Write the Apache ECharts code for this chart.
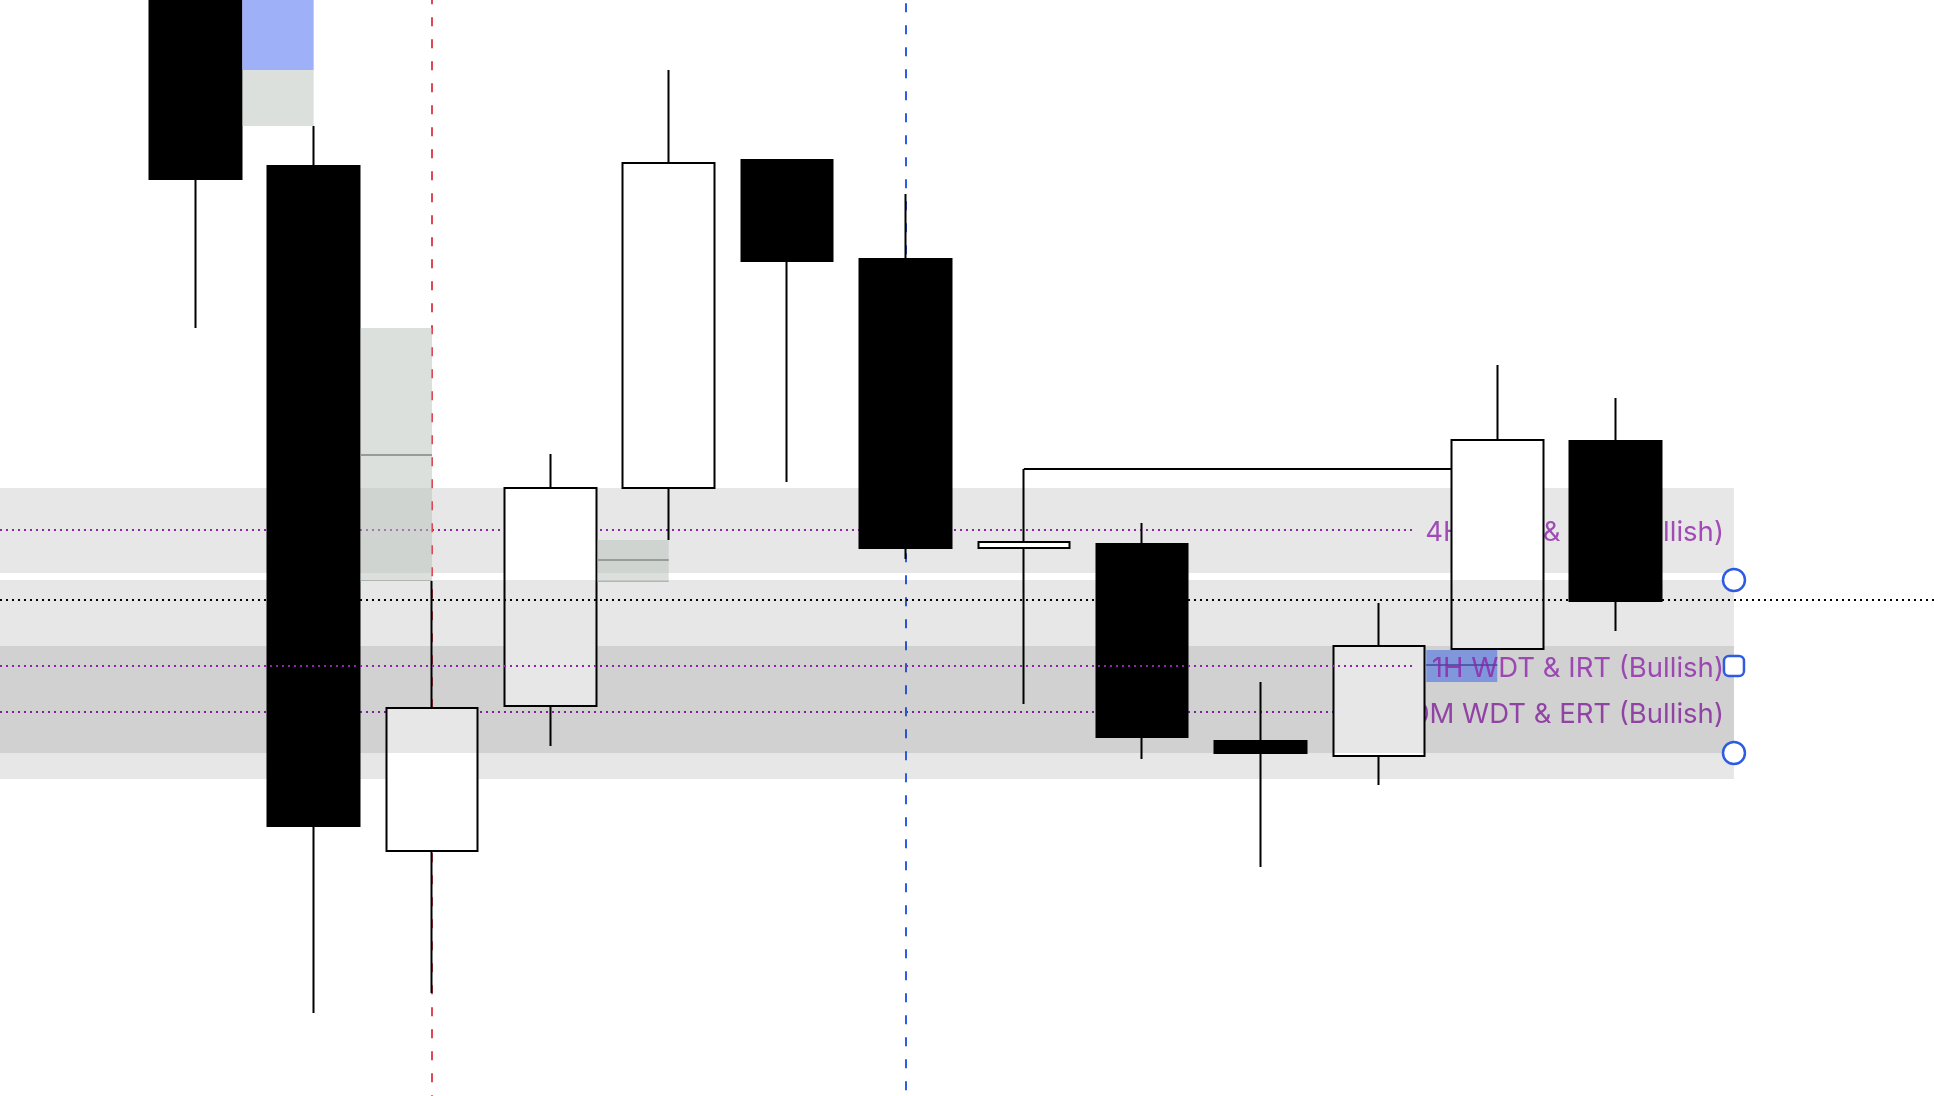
<!DOCTYPE html>
<html><head><meta charset="utf-8">
<script src="https://cdn.jsdelivr.net/npm/echarts/dist/echarts.min.js"></script>
<style>html,body{margin:0;padding:0;background:#fff;overflow:hidden}#chart{width:1934px;height:1096px}</style>
</head><body><div id="chart"></div>
<script>
// ---- Candles: bar index + OHLC (price units) ----
const barIndex = [0, 1, 2, 3, 4, 5, 6, 7, 8, 9, 10, 11, 12];
const opens  = [2402.00, 2391.70, 2357.45, 2364.70, 2375.60, 2392.00, 2387.05, 2372.60, 2372.80, 2362.95, 2362.20, 2367.55, 2377.95];
const closes = [2391.05, 2358.70, 2364.60, 2375.60, 2391.85, 2386.95, 2372.60, 2372.90, 2363.15, 2362.35, 2367.70, 2378.00, 2369.95];
const lows   = [2383.60, 2349.35, 2350.35, 2362.70, 2373.00, 2375.90, 2372.05, 2364.80, 2362.05, 2356.65, 2360.75, 2367.55, 2368.45];
const highs  = [2405.00, 2393.70, 2370.95, 2377.30, 2396.50, 2392.00, 2390.30, 2376.55, 2373.85, 2365.90, 2369.85, 2381.75, 2380.10];

// ---- Zones (rectangles with dotted mid line and label) ----
const zoneLabels  = ['4H WDT & IRT (Bullish)', '1H WDT & IRT (Bullish)', '30M WDT & ERT (Bullish)'];
const zoneTops    = [2375.60, 2371.00, 2367.70];
const zoneBottoms = [2371.35, 2362.35, 2361.05];
const zoneMids    = [2373.50, 2366.70, 2364.40];
const zoneStartX = -1.65, zoneEndX = 13.0, zoneLineEndX = 10.29, zoneLabelX = 12.915;

// ---- Gap boxes ----
const boxLeft   = [0.397, 1.397, 3.397];
const boxRight  = [1.0, 2.0, 4.0];
const boxTop    = [2396.50, 2383.60, 2373.00];
const boxBottom = [2393.70, 2371.00, 2370.95];
const boxMid    = [null, 2377.25, 2372.00];
const blueBoxTop = 2401.0, blueBoxBottom = 2396.50;

// ---- Other drawings ----
const redLineX = 2, blueLineX = 6;
const crosshairY = 2370.00;
const rayStartX = 7, rayEndX = 11.3, rayY = 2376.55;
const hlLeft = 10.40, hlRight = 11.0, hlTop = 2367.50, hlBottom = 2365.90, hlLineY = 2366.75;
const xMin = -1.65, xMax = 14.69, yMin = 2345.2, yMax = 2400.0;

const purple = '#8e24aa';
const zoneFill = 'rgba(0,0,0,0.095)';
const boxFill = 'rgba(188,195,190,0.52)';

const candleData = barIndex.map((x, i) => [x, opens[i], closes[i], lows[i], highs[i]]);

function hLine(x1, x2, y, style) {
  return [{ coord: [x1, y], lineStyle: style }, { coord: [x2, y] }];
}
function vLine(x, y1, y2, style) {
  return [{ coord: [x, y1], lineStyle: style }, { coord: [x, y2] }];
}
function rect(x1, x2, y1, y2, color) {
  return [{ coord: [x1, y1], itemStyle: { color: color } }, { coord: [x2, y2] }];
}
const dotted = { color: purple, width: 2, type: [2, 4] };
const labelStyle = {
  show: true, position: 'left', distance: 0, offset: [0, 3], color: purple,
  fontSize: 27.5, fontFamily: 'Inter, "Noto Sans", sans-serif',
  formatter: p => p.data[2]
};

const option = {
  animation: false,
  backgroundColor: '#ffffff',
  grid: { left: 0, right: 0, top: 0, bottom: 0 },
  xAxis: { type: 'value', min: xMin, max: xMax, show: false, splitLine: { show: false } },
  yAxis: { type: 'value', min: yMin, max: yMax, show: false, scale: true, splitLine: { show: false } },
  series: [
    {
      name: 'drawingsBelow', type: 'line', data: [], silent: true,
      markArea: {
        z: 1, silent: true, label: { show: false },
        data: [
          rect(zoneStartX, zoneEndX, zoneTops[0], zoneBottoms[0], zoneFill),
          rect(zoneStartX, zoneEndX, zoneTops[2], zoneBottoms[2], zoneFill)
        ]
      },
      markLine: {
        z: 2, silent: true, symbol: ['none', 'none'], label: { show: false },
        data: [
          hLine(zoneStartX, zoneLineEndX, zoneMids[0], dotted),
          hLine(zoneStartX, zoneLineEndX, zoneMids[2], dotted),
          vLine(redLineX, yMax, yMin, { color: '#e24556', width: 2, type: [9, 13], dashOffset: 4.7 }),
          vLine(blueLineX, yMax, yMin, { color: '#2f5ce6', width: 2, type: [9, 13], dashOffset: -3.3 }),
          hLine(rayStartX, rayEndX, rayY, { color: '#000000', width: 2, type: 'solid' })
        ]
      }
    },
    {
      name: 'labelsBelow', type: 'scatter', z: 2, silent: true, symbolSize: 0,
      data: [[zoneLabelX, zoneMids[0], zoneLabels[0]], [zoneLabelX, zoneMids[2], zoneLabels[2]]],
      label: labelStyle
    },
    {
      name: 'price', type: 'candlestick', z: 3, barWidth: 92, silent: true,
      data: candleData,
      itemStyle: { color: '#ffffff', color0: '#000000', borderColor: '#000000', borderColor0: '#000000', borderWidth: 2 }
    },
    {
      name: 'gapBoxes', type: 'line', data: [], silent: true,
      markArea: {
        z: 4, silent: true, label: { show: false },
        data: [
          rect(boxLeft[0], boxRight[0], blueBoxTop, blueBoxBottom, '#9db0f8'),
          rect(boxLeft[0], boxRight[0], boxTop[0], boxBottom[0], boxFill),
          rect(boxLeft[1], boxRight[1], boxTop[1], boxBottom[1], boxFill),
          rect(boxLeft[2], boxRight[2], boxTop[2], boxBottom[2], boxFill)
        ]
      },
      markLine: {
        z: 4, silent: true, symbol: ['none', 'none'], label: { show: false },
        data: [
          hLine(boxLeft[1], boxRight[1], boxMid[1], { color: '#989c99', width: 2, type: 'solid' }),
          hLine(boxLeft[2], boxRight[2], boxMid[2], { color: '#989c99', width: 2, type: 'solid' }),
          hLine(boxLeft[1], boxRight[1], boxBottom[1], { color: '#c4c8c5', width: 1, type: 'solid' }),
          hLine(boxLeft[2], boxRight[2], boxBottom[2], { color: '#c4c8c5', width: 1, type: 'solid' })
        ]
      }
    },
    {
      name: 'selectedZone', type: 'line', data: [], silent: true,
      markArea: {
        z: 5, silent: true, label: { show: false },
        data: [
          rect(zoneStartX, zoneEndX, zoneTops[1], zoneBottoms[1], zoneFill),
          rect(hlLeft, hlRight, hlTop, hlBottom, '#8197dc')
        ]
      },
      markLine: {
        z: 6, silent: true, symbol: ['none', 'none'], label: { show: false },
        data: [
          hLine(zoneStartX, zoneLineEndX, zoneMids[1], dotted),
          hLine(hlLeft, hlRight, hlLineY, { color: '#4b5ea6', width: 2, type: 'solid' }),
          hLine(xMin, xMax, crosshairY, { color: '#000000', width: 2, type: [2, 4] })
        ]
      },
      markPoint: {
        z: 8, silent: true, symbolSize: 22, label: { show: false },
        itemStyle: { color: '#ffffff', borderColor: '#2d5be3', borderWidth: 2.5 },
        data: [
          { coord: [zoneEndX, zoneTops[1]], symbol: 'circle' },
          { coord: [zoneEndX, zoneMids[1]], symbol: 'roundRect', symbolSize: 20 },
          { coord: [zoneEndX, zoneBottoms[1]], symbol: 'circle' }
        ]
      }
    },
    {
      name: 'labelsTop', type: 'scatter', z: 7, silent: true, symbolSize: 0,
      data: [[zoneLabelX, zoneMids[1], zoneLabels[1]]],
      label: labelStyle
    }
  ]
};
const chart = echarts.init(document.getElementById('chart'), null, { renderer: 'canvas' });
chart.setOption(option);
</script>
</body></html>
